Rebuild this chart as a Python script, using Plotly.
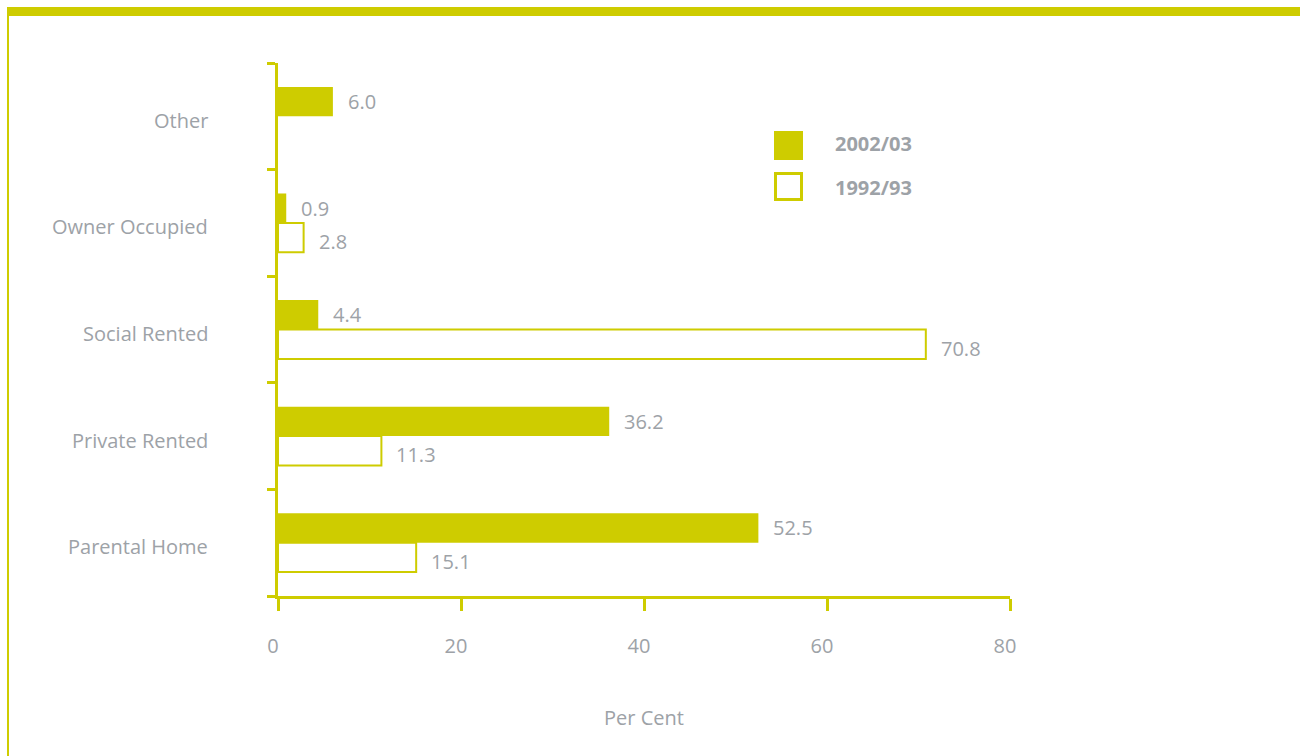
import plotly.graph_objects as go

# Housing tenure, per cent
categories = ["Parental Home", "Private Rented", "Social Rented", "Owner Occupied", "Other"]
share_2002_03 = [52.5, 36.2, 4.4, 0.9, 6.0]
share_1992_93 = [15.1, 11.3, 70.8, 2.8, None]
series_names = ["2002/03", "1992/93"]
x_ticks = [0, 20, 40, 60, 80]
x_title = "Per Cent"

LIME = "#cecc00"
GREY = "#9da2a7"
FONT = "Open Sans"
FS = 20

W, H = 1300, 756
L, R, T, B = 278, 290, 63, 160
PW = W - L - R
PH = H - T - B


def px_x(px):
    return (px - L) / PW


def px_y(py):
    return (H - B - py) / PH


fig = go.Figure()
fig.add_bar(
    name=series_names[1], y=categories, x=share_1992_93, orientation="h",
    marker=dict(color="white", line=dict(color=LIME, width=2)),
    showlegend=False, hoverinfo="skip",
)
fig.add_bar(
    name=series_names[0], y=categories, x=share_2002_03, orientation="h",
    marker=dict(color=LIME, line=dict(width=0)),
    showlegend=False, hoverinfo="skip",
)

BAR_W = 0.276
annotations = []

# category labels
for i, cat in enumerate(categories):
    annotations.append(dict(
        x=0, y=i, xref="x", yref="y", text=cat, showarrow=False,
        xanchor="right", yanchor="middle", xshift=-68, yshift=-4,
        font=dict(family=FONT, size=FS, color=GREY),
    ))

# value labels
for series, offset, yshift in ((share_2002_03, BAR_W / 2, 0), (share_1992_93, -BAR_W / 2, -4)):
    for i, v in enumerate(series):
        if v is None:
            continue
        annotations.append(dict(
            x=v, y=i + offset, xref="x", yref="y", text=f"{v:.1f}",
            showarrow=False, xanchor="left", yanchor="middle", xshift=13, yshift=yshift,
            font=dict(family=FONT, size=FS, color=GREY),
        ))

# legend labels
for name, py in zip(series_names, [144, 187]):
    annotations.append(dict(
        x=px_x(833), y=px_y(py), xref="paper", yref="paper", text=f"<b>{name}</b>",
        showarrow=False, xanchor="left", yanchor="middle",
        font=dict(family=FONT, size=FS, color=GREY),
    ))

shapes = [
    # frame: top band and left rule
    dict(type="rect", xref="paper", yref="paper", x0=px_x(7), x1=px_x(1300),
         y0=px_y(16), y1=px_y(7), fillcolor=LIME, line=dict(width=0), layer="below"),
    dict(type="rect", xref="paper", yref="paper", x0=px_x(7), x1=px_x(9),
         y0=px_y(756), y1=px_y(7), fillcolor=LIME, line=dict(width=0), layer="below"),
    # legend swatches
    dict(type="rect", xref="paper", yref="paper", x0=px_x(774), x1=px_x(803),
         y0=px_y(160), y1=px_y(131), fillcolor=LIME, line=dict(width=0)),
    dict(type="rect", xref="paper", yref="paper", x0=px_x(775.5), x1=px_x(801.5),
         y0=px_y(199.5), y1=px_y(173.5), fillcolor="white", line=dict(color=LIME, width=3)),
]

fig.update_layout(
    width=W, height=H,
    margin=dict(l=L, r=R, t=T, b=B, autoexpand=False),
    paper_bgcolor="white", plot_bgcolor="white",
    barmode="group", bargap=1 - 2 * BAR_W, bargroupgap=0,
    font=dict(family=FONT, color=GREY),
    annotations=annotations, shapes=shapes,
    showlegend=False,
    xaxis=dict(
        range=[0, 80], tickvals=x_ticks, showgrid=False, zeroline=False,
        showline=True, linecolor=LIME, linewidth=3,
        ticks="outside", ticklen=12, tickwidth=3, tickcolor=LIME,
        tickfont=dict(family=FONT, size=FS, color=GREY),
        ticklabelstandoff=18, ticklabelshift=-5,
        title=dict(text=x_title, font=dict(family=FONT, size=FS, color=GREY), standoff=53),
    ),
    yaxis=dict(
        type="category", categoryorder="array", categoryarray=categories,
        range=[-0.5, 4.5], tickson="boundaries", showgrid=False, zeroline=False,
        showline=True, linecolor=LIME, linewidth=3,
        ticks="outside", ticklen=8, tickwidth=3, tickcolor=LIME,
        showticklabels=False,
    ),
)

fig.write_html("out.html")
